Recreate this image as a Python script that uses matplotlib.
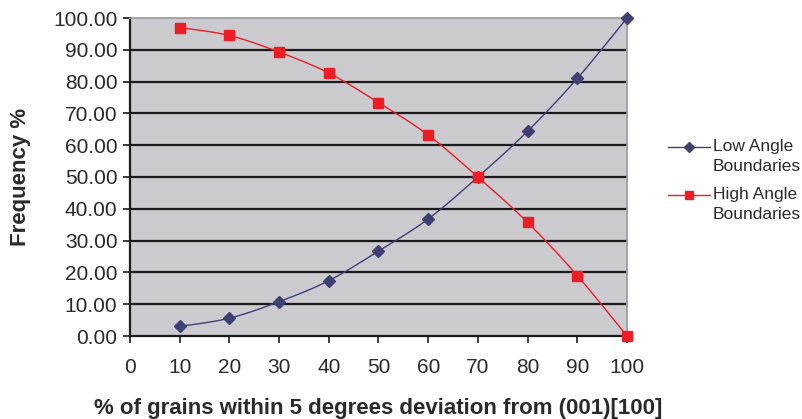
import numpy as np
import matplotlib
matplotlib.use("Agg")
import matplotlib.pyplot as plt
from matplotlib.lines import Line2D

plt.rcParams['font.family'] = ['Liberation Sans', 'DejaVu Sans']

grains_pct = [10, 20, 30, 40, 50, 60, 70, 80, 90, 100]
low_angle = [3.0, 5.6, 10.8, 17.4, 26.7, 36.8, 50.0, 64.4, 81.0, 100.0]
high_angle = [97.0, 94.5, 89.3, 82.7, 73.4, 63.2, 50.0, 35.7, 19.0, 0.0]
x_ticks = list(range(0, 101, 10))
y_ticks = list(range(0, 101, 10))
series_names = ['Low Angle\nBoundaries', 'High Angle\nBoundaries']


def smooth(x, y, n=20):
    """Cardinal-spline smoothing through the given points (like a smoothed line chart)."""
    x = np.asarray(x, float)
    y = np.asarray(y, float)
    px = np.concatenate([[x[0]], x, [x[-1]]])
    py = np.concatenate([[y[0]], y, [y[-1]]])
    xs, ys = [], []
    t = np.linspace(0, 1, n)
    k = 1 / 6
    for i in range(1, len(px) - 2):
        p0 = np.array([px[i], py[i]])
        p3 = np.array([px[i + 1], py[i + 1]])
        p1 = p0 + k * (np.array([px[i + 1], py[i + 1]]) - np.array([px[i - 1], py[i - 1]]))
        p2 = p3 - k * (np.array([px[i + 2], py[i + 2]]) - np.array([px[i], py[i]]))
        b = ((1 - t) ** 3)[:, None] * p0 + (3 * (1 - t) ** 2 * t)[:, None] * p1 \
            + (3 * (1 - t) * t ** 2)[:, None] * p2 + (t ** 3)[:, None] * p3
        xs.extend(b[:, 0])
        ys.extend(b[:, 1])
    return np.array(xs), np.array(ys)


low_color = '#3f3f73'
high_color = '#ee1c25'
text_color = '#2a2a2a'

W, H = 803, 419
fig = plt.figure(figsize=(W / 100, H / 100), dpi=100)
ax = fig.add_axes([130 / W, 1 - 336 / H, (627 - 130) / W, (336 - 18) / H])
ax.set_facecolor('#cbcbcf')

for v in y_ticks[1:-1]:
    ax.axhline(v, color='#1a1a1a', lw=1.6, zorder=1)

sx, sy = smooth(grains_pct, low_angle)
ax.plot(sx, sy, color=low_color, lw=1.0, zorder=3)
ax.plot(grains_pct, low_angle, ls='none', marker='D', ms=6, color=low_color, zorder=4, clip_on=False)

sx, sy = smooth(grains_pct, high_angle)
ax.plot(sx, sy, color=high_color, lw=1.0, zorder=3)
ax.plot(grains_pct, high_angle, ls='none', marker='s', ms=7.5, color=high_color, zorder=5, clip_on=False)

ax.set_xlim(0, 100)
ax.set_ylim(0, 100)
ax.set_xticks(x_ticks)
ax.set_yticks(y_ticks)
ax.set_xticklabels([str(v) for v in x_ticks])
ax.set_yticklabels([f'{v:.2f}' for v in y_ticks])
ax.tick_params(axis='both', direction='out', length=5, width=1.2, color='#1a1a1a',
               labelsize=15, labelcolor=text_color)
ax.tick_params(axis='x', pad=11)
ax.tick_params(axis='y', pad=4)

for side in ('left', 'bottom'):
    ax.spines[side].set_color('#1a1a1a')
    ax.spines[side].set_linewidth(1.6)
for side in ('top', 'right'):
    ax.spines[side].set_color('#9a9a9a')
    ax.spines[side].set_linewidth(1.2)

ax.set_xlabel('% of grains within 5 degrees deviation from (001)[100]',
              fontsize=16, fontweight='bold', color=text_color, labelpad=15)
ax.set_ylabel('Frequency %', fontsize=16, fontweight='bold', color=text_color, labelpad=16)

# Legend keys sit level with the first line of each two-line label
legend_styles = [(low_color, 'D', 5), (high_color, 's', 6)]
for i, (name, (col, mk, ms)) in enumerate(zip(series_names, legend_styles)):
    y_px = 147 + i * 48
    yf = 1 - y_px / H
    fig.add_artist(Line2D([668 / W, 710 / W], [yf, yf], transform=fig.transFigure,
                          color=col, lw=1.0))
    fig.add_artist(Line2D([689 / W], [yf], transform=fig.transFigure, color=col,
                          marker=mk, ms=ms, ls='none'))
    fig.text(713 / W, 1 - (y_px - 8) / H, name, fontsize=12.5, color=text_color,
             ha='left', va='top', linespacing=1.4)

fig.savefig('out.png', dpi=100)
